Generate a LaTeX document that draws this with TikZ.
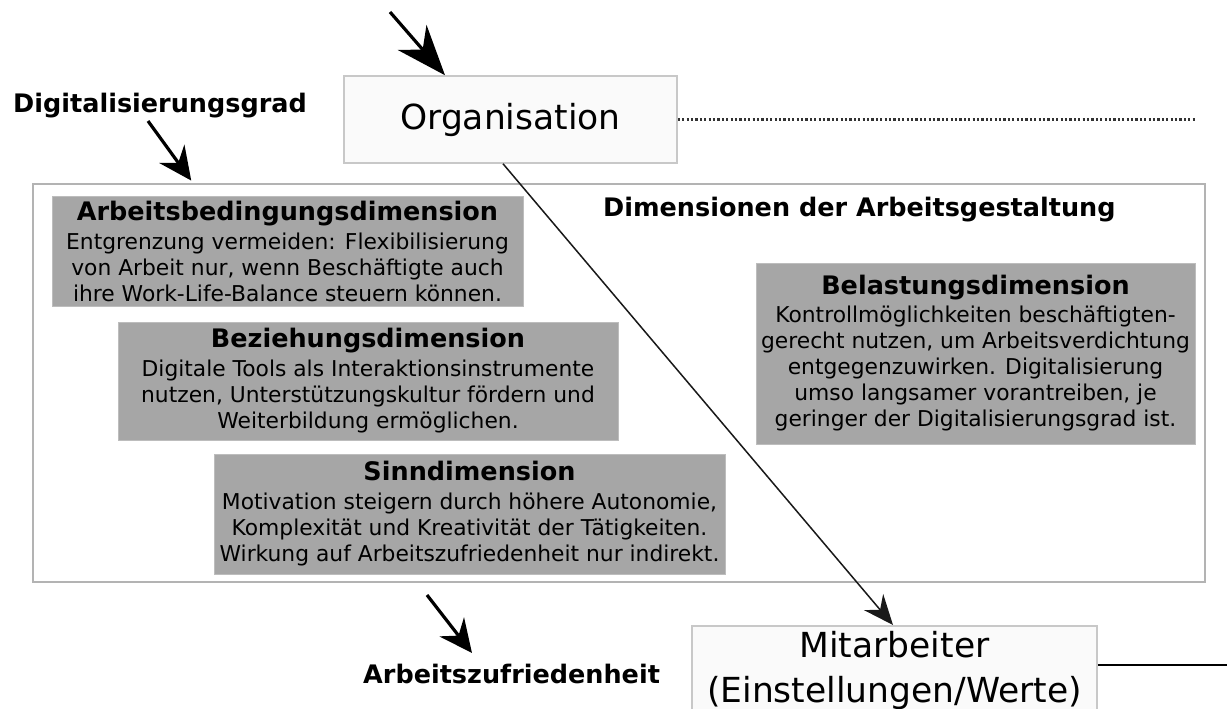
\documentclass[tikz,border=0pt]{standalone}
\usepackage{fontspec}
\setmainfont{DejaVu Sans}
\usetikzlibrary{arrows.meta,calc}

\definecolor{boxgray}{HTML}{A6A6A6}
\definecolor{boxedge}{HTML}{BDBDBD}
\definecolor{paleedge}{HTML}{C8C8C8}
\definecolor{palefill}{HTML}{FAFAFA}
\definecolor{frameedge}{HTML}{B3B3B3}

\newcommand{\bodyfont}{\fontsize{21.8}{26}\selectfont}
\newcommand{\headfont}{\bfseries\fontsize{25.5}{30}\selectfont}
\newcommand{\bigfont}{\fontsize{34.5}{45}\selectfont}

\begin{document}
\begin{tikzpicture}[x=1pt,y=-1pt,
  palebox/.style={draw=paleedge,fill=palefill,line width=1.5pt,inner sep=0pt,align=center,font=\bigfont},
  frame/.style={draw=frameedge,fill=white,line width=2pt,inner sep=0pt},
  dimbox/.style={draw=boxedge,fill=boxgray,line width=1pt,inner sep=0pt,align=center,font=\bodyfont},
  lbl/.style={inner sep=0pt,font=\headfont},
  heavyarrow/.style={line width=3.2pt,-{Stealth[length=33pt,width=31pt,inset=11pt]}},
  hugearrow/.style={line width=3.2pt,-{Stealth[length=50pt,width=38pt,inset=16pt]}},
  slimarrow/.style={line width=1.5pt,black!90,-{Stealth[length=30pt,width=25pt,inset=10pt]}},
  dotline/.style={line width=2.6pt,dash pattern=on 2.2pt off 2.2pt,black!80}
]
\useasboundingbox (0,0) rectangle (1227,709);

% upper level: the organisation
\node[palebox,minimum width=333pt,minimum height=87pt] (org) at (510.5,119.5) {Organisation};
\coordinate (orgout) at (1195,119.5);
\draw[dotline] (org.east) -- (orgout);

% frame holding the four design dimensions
\node[frame,minimum width=1172pt,minimum height=398pt] (dims) at (619,383) {};
\node[lbl,anchor=base west] (dimtitle) at (603,216) {Dimensionen der Arbeitsgestaltung};

\node[dimbox,minimum width=471pt,minimum height=110pt] (arb) at (287.5,251)
  {{\headfont Arbeitsbedingungsdimension}\\[3pt]
   Entgrenzung vermeiden: Flexibilisierung\\
   von Arbeit nur, wenn Beschäftigte auch\\
   ihre Work-Life-Balance steuern können.};

\node[dimbox,minimum width=500pt,minimum height=118pt] (bez) at (368,381)
  {{\headfont Beziehungsdimension}\\[3pt]
   Digitale Tools als Interaktionsinstrumente\\
   nutzen, Unterstützungskultur fördern und\\
   Weiterbildung ermöglichen.};

\node[dimbox,minimum width=511pt,minimum height=120pt] (sinn) at (469.5,514)
  {{\headfont Sinndimension}\\[3pt]
   Motivation steigern durch höhere Autonomie,\\
   Komplexität und Kreativität der Tätigkeiten.\\
   Wirkung auf Arbeitszufriedenheit nur indirekt.};

\node[dimbox,minimum width=439pt,minimum height=181pt] (bel) at (975.5,353.5)
  {{\headfont Belastungsdimension}\\[2pt]
   Kontrollmöglichkeiten beschäftigten-\\
   gerecht nutzen, um Arbeitsverdichtung\\
   entgegenzuwirken. Digitalisierung\\
   umso langsamer vorantreiben, je\\
   geringer der Digitalisierungsgrad ist.};

% lower level: the employee
\node[palebox,anchor=north,minimum width=405pt,inner ysep=6pt] (mit) at (894.5,625)
  {Mitarbeiter\\(Einstellungen/Werte)};
\coordinate (mitout) at (1227,665);
\draw[line width=2pt] (mitout -| mit.east) -- (mitout);

% outer labels
\node[lbl,anchor=base west] (dg) at (13,112) {Digitalisierungsgrad};
\node[lbl,anchor=base west] (az) at (363,683) {Arbeitszufriedenheit};

% arrows
\coordinate (topsrc) at (390,12);
\draw[hugearrow] (topsrc) -- ([xshift=-65.5pt]org.north);

\coordinate (dgsrc) at (148,121);
\draw[heavyarrow,shorten >=3pt] (dgsrc) -- ([xshift=-426pt]dims.north);

\coordinate (azsrc) at (427,595);
\coordinate (aztip) at (472,653);
\draw[heavyarrow] (azsrc) -- (aztip);

\draw[slimarrow] ([xshift=-7.5pt]org.south) -- ([xshift=-1.5pt]mit.north);
\end{tikzpicture}
\end{document}
